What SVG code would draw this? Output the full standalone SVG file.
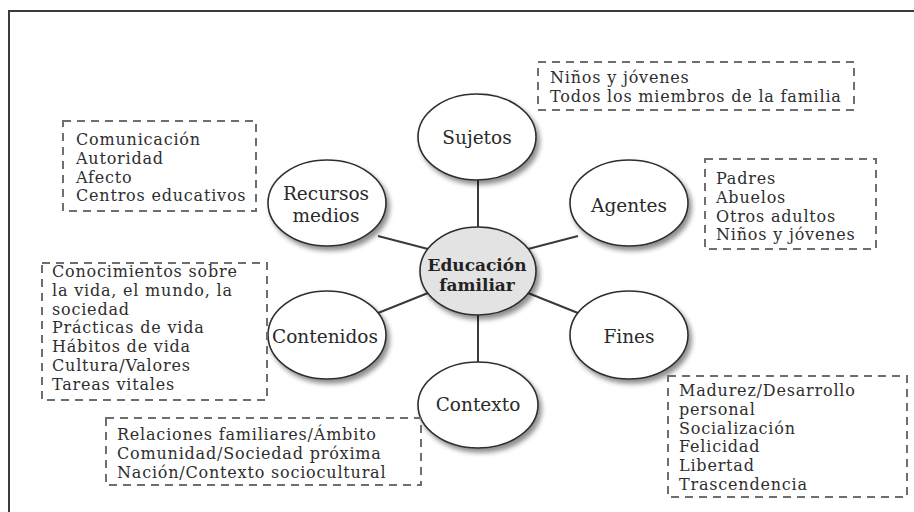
<svg xmlns="http://www.w3.org/2000/svg" width="914" height="512" viewBox="0 0 914 512">
<defs>
<style>
.frame{stroke:#3a3a3a;stroke-width:2;fill:none}
.node{fill:#ffffff;stroke:#2e2e2e;stroke-width:1.6}
.center{fill:#e3e3e3;stroke:#2e2e2e;stroke-width:1.6}
.lbl{font-family:"DejaVu Serif","Liberation Serif",serif;font-size:18.5px;fill:#2a2a2a;text-anchor:middle}
.lblb{font-family:"DejaVu Serif","Liberation Serif",serif;font-size:17px;font-weight:bold;fill:#222;text-anchor:middle}
.box{fill:none;stroke:#6e6e6e;stroke-width:2;stroke-dasharray:8 6}
.txt{font-family:"DejaVu Serif","Liberation Serif",serif;font-size:16px;letter-spacing:0.8px;fill:#2e2e2e}
.conn{stroke:#3a3a3a;stroke-width:2;fill:none}
</style>
<filter id="sh" x="-20%" y="-20%" width="150%" height="150%">
<feGaussianBlur in="SourceAlpha" stdDeviation="2.5"/>
<feOffset dx="3" dy="4" result="b"/>
<feComponentTransfer><feFuncA type="linear" slope="0.45"/></feComponentTransfer>
<feMerge><feMergeNode/><feMergeNode in="SourceGraphic"/></feMerge>
</filter>
</defs>
<rect width="914" height="512" fill="#ffffff"/>
<path class="frame" d="M9,512 V11 H914"/>

<g id="connectors">
<line class="conn" x1="478" y1="178" x2="478" y2="229"/>
<line class="conn" x1="478" y1="313" x2="478" y2="364"/>
<line class="conn" x1="378" y1="236" x2="428" y2="249"/>
<line class="conn" x1="528" y1="249" x2="578" y2="236"/>
<line class="conn" x1="378" y1="313" x2="428" y2="293"/>
<line class="conn" x1="528" y1="293" x2="578" y2="313"/>
</g>

<g id="node-sujetos">
<ellipse class="node" filter="url(#sh)" cx="477" cy="137" rx="59" ry="43"/>
<text class="lbl" x="477" y="144">Sujetos</text>
</g>
<g id="node-recursos">
<ellipse class="node" filter="url(#sh)" cx="327" cy="203" rx="59" ry="43"/>
<text class="lbl" x="326" y="200">Recursos</text>
<text class="lbl" x="326" y="221.5">medios</text>
</g>
<g id="node-agentes">
<ellipse class="node" filter="url(#sh)" cx="629" cy="203" rx="59" ry="43"/>
<text class="lbl" x="629" y="212">Agentes</text>
</g>
<g id="node-centro">
<ellipse class="center" filter="url(#sh)" cx="478" cy="271" rx="58" ry="44"/>
<text class="lblb" x="477" y="271">Educación</text>
<text class="lblb" x="477" y="291">familiar</text>
</g>
<g id="node-contenidos">
<ellipse class="node" filter="url(#sh)" cx="327" cy="335" rx="59" ry="44"/>
<text class="lbl" x="325" y="343">Contenidos</text>
</g>
<g id="node-fines">
<ellipse class="node" filter="url(#sh)" cx="629" cy="335" rx="59" ry="44"/>
<text class="lbl" x="629" y="343">Fines</text>
</g>
<g id="node-contexto">
<ellipse class="node" filter="url(#sh)" cx="478" cy="405" rx="60" ry="43"/>
<text class="lbl" x="478" y="411">Contexto</text>
</g>

<g id="box-sujetos">
<rect class="box" x="538" y="62" width="316" height="48"/>
<text class="txt" x="550" y="83">Niños y jóvenes</text>
<text class="txt" x="550" y="101.8">Todos los miembros de la familia</text>
</g>
<g id="box-recursos">
<rect class="box" x="63" y="121" width="193" height="90"/>
<text class="txt" x="76" y="145">Comunicación</text>
<text class="txt" x="76" y="163.8">Autoridad</text>
<text class="txt" x="76" y="182.6">Afecto</text>
<text class="txt" x="76" y="201.4">Centros educativos</text>
</g>
<g id="box-agentes">
<rect class="box" x="705" y="159" width="171" height="90"/>
<text class="txt" x="716" y="184">Padres</text>
<text class="txt" x="716" y="202.8">Abuelos</text>
<text class="txt" x="716" y="221.6">Otros adultos</text>
<text class="txt" x="716" y="240.4">Niños y jóvenes</text>
</g>
<g id="box-contenidos">
<rect class="box" x="42" y="263" width="225" height="137"/>
<text class="txt" x="52" y="277">Conocimientos sobre</text>
<text class="txt" x="52" y="295.8">la vida, el mundo, la</text>
<text class="txt" x="52" y="314.6">sociedad</text>
<text class="txt" x="52" y="333.4">Prácticas de vida</text>
<text class="txt" x="52" y="352.2">Hábitos de vida</text>
<text class="txt" x="52" y="371">Cultura/Valores</text>
<text class="txt" x="52" y="389.8">Tareas vitales</text>
</g>
<g id="box-contexto">
<rect class="box" x="106" y="418" width="315" height="67"/>
<text class="txt" x="117" y="440">Relaciones familiares/Ámbito</text>
<text class="txt" x="117" y="458.8">Comunidad/Sociedad próxima</text>
<text class="txt" x="117" y="477.6">Nación/Contexto sociocultural</text>
</g>
<g id="box-fines">
<rect class="box" x="668" y="376" width="239" height="121"/>
<text class="txt" x="679" y="396">Madurez/Desarrollo</text>
<text class="txt" x="679" y="414.8">personal</text>
<text class="txt" x="679" y="433.6">Socialización</text>
<text class="txt" x="679" y="452.4">Felicidad</text>
<text class="txt" x="679" y="471.2">Libertad</text>
<text class="txt" x="679" y="490">Trascendencia</text>
</g>
</svg>
